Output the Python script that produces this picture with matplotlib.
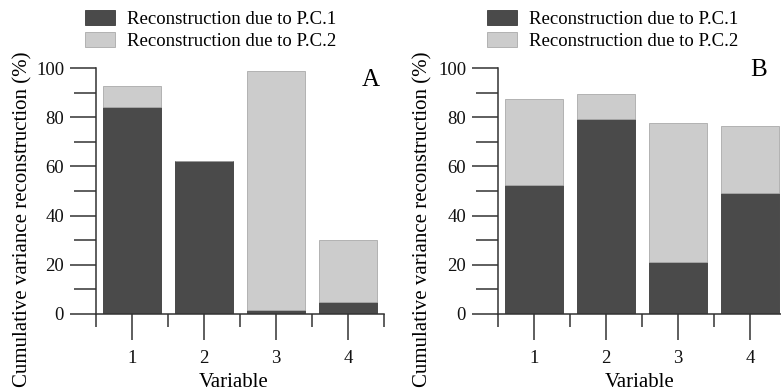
import matplotlib
matplotlib.use("Agg")
import matplotlib.pyplot as plt
import numpy as np

plt.rcParams['font.family'] = ['Liberation Serif', 'DejaVu Serif']

variables = [1, 2, 3, 4]
# panel A
pc1_a = [84.0, 62.0, 1.6, 4.7]
pc2_a = [8.7, 0.0, 97.2, 25.4]
# panel B
pc1_b = [52.4, 79.1, 21.0, 49.0]
pc2_b = [35.0, 10.2, 56.5, 27.5]

labels = ["Reconstruction due to P.C.1", "Reconstruction due to P.C.2"]
panel_names = ["A", "B"]

dark = '#4a4a4a'
light = '#cccccc'
axcol = '#333333'
fs = 13.5
lfs = 15

W, H = 781, 391
fig = plt.figure(figsize=(W / 100, H / 100), dpi=100)


def make_panel(left_px, pc1, pc2, name, name_pos, xl_x, yl_x):
    ax = fig.add_axes([left_px / W, (H - 314) / H, 288 / W, 246 / H])
    x = np.array(variables)
    b1 = ax.bar(x, pc1, width=0.8, color=dark, edgecolor='#3a3a3a', linewidth=0.6)
    b2 = ax.bar(x, pc2, width=0.8, bottom=pc1, color=light, edgecolor='#aaaaaa', linewidth=0.6)
    ax.set_xlim(0.5, 4.5)
    ax.set_ylim(0, 100)
    for s in ['top', 'right']:
        ax.spines[s].set_visible(False)
    for s in ['left', 'bottom']:
        ax.spines[s].set_color(axcol)
        ax.spines[s].set_linewidth(1.1)
    ax.set_xticks(variables)
    ax.set_xticks(np.arange(0.5, 4.6, 1.0), minor=True)
    ax.set_yticks(np.arange(0, 101, 20))
    ax.set_yticks(np.arange(10, 100, 20), minor=True)
    ax.tick_params(axis='both', which='both', direction='out', color=axcol, width=1.1,
                   labelsize=fs, labelcolor='#111111')
    ax.tick_params(axis='x', which='major', length=19, pad=7)
    ax.tick_params(axis='x', which='minor', length=9.5)
    ax.tick_params(axis='y', which='major', length=19, pad=4)
    ax.tick_params(axis='y', which='minor', length=16)
    ax.set_xlabel("Variable", fontsize=lfs)
    ax.set_ylabel("Cumulative variance reconstruction (%)", fontsize=lfs)
    ax.xaxis.set_label_coords(xl_x, -0.238)
    ax.yaxis.set_label_coords(yl_x, 0.385)
    ax.text(name_pos[0], name_pos[1], name, transform=ax.transAxes, fontsize=18,
            ha='right', va='center')
    ax.legend([b1, b2], labels, loc='center left',
              bbox_to_anchor=(-19 / 288, 1 + 38 / 246), frameon=False,
              fontsize=fs, handlelength=1.65, handleheight=0.85,
              labelspacing=0.2, handletextpad=0.6, borderaxespad=0)
    return ax


make_panel(96, pc1_a, pc2_a, panel_names[0], (0.986, 0.951), 0.479, -0.219)
make_panel(498, pc1_b, pc2_b, panel_names[1], (0.934, 0.99), 0.493, -0.226)

fig.savefig("out.png", dpi=100)
